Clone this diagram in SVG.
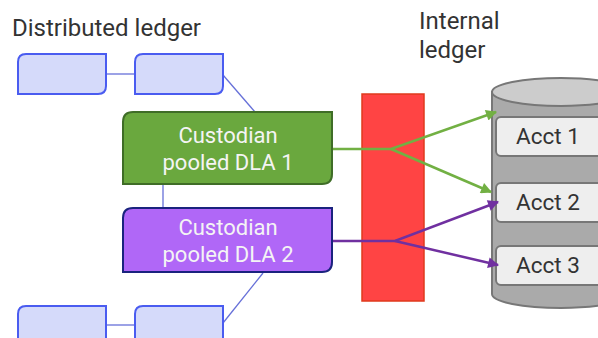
<svg xmlns="http://www.w3.org/2000/svg" width="598" height="338" viewBox="0 0 598 338">
<defs>
<style>
.title{font-family:Roboto,"Liberation Sans",sans-serif;font-size:24px;fill:#333333}
.lbl{font-family:Roboto,"Liberation Sans",sans-serif;font-size:22px;fill:#f4f4f4;text-anchor:middle}
.acct{font-family:Roboto,"Liberation Sans",sans-serif;font-size:22.5px;fill:#333333;text-anchor:middle}
.blk{fill:#d5dafa;stroke:#4a5cf0;stroke-width:2}
.thin{stroke:#6670d8;stroke-width:1.3;fill:none}
.acb{fill:#eeeeee;stroke:#777777;stroke-width:2}
.g{stroke:#72b043;stroke-width:2.5;fill:none}
.p{stroke:#7030a0;stroke-width:2.5;fill:none}
</style>
<marker id="ag" viewBox="0 0 10 10" refX="9" refY="5" markerWidth="13" markerHeight="11" orient="auto" markerUnits="userSpaceOnUse"><path d="M0,0 L10,5 L0,10 z" fill="#72b043"/></marker>
<marker id="ap" viewBox="0 0 10 10" refX="9" refY="5" markerWidth="13" markerHeight="11" orient="auto" markerUnits="userSpaceOnUse"><path d="M0,0 L10,5 L0,10 z" fill="#7030a0"/></marker>
</defs>
<rect width="598" height="338" fill="#ffffff"/>
<text class="title" x="12" y="36">Distributed ledger</text>
<text class="title" x="419" y="29">Internal</text>
<text class="title" x="419" y="58">ledger</text>

<g id="connectors">
<line class="thin" x1="106" y1="74" x2="135" y2="74"/>
<line class="thin" x1="223" y1="75" x2="255" y2="112"/>
<line class="thin" x1="163" y1="184" x2="163" y2="208"/>
<line class="thin" x1="263" y1="273" x2="223" y2="323"/>
<line class="thin" x1="106" y1="325" x2="135" y2="325"/>
</g>

<g id="dl1"><path class="blk" d="M26,54 H106 V86 Q106,94 98,94 H18 V62 Q18,54 26,54 Z"/></g>
<g id="dl2"><path class="blk" d="M143,54 H223 V86 Q223,94 215,94 H135 V62 Q135,54 143,54 Z"/></g>
<g id="dl3"><path class="blk" d="M26,306 H106 V345 H18 V314 Q18,306 26,306 Z"/></g>
<g id="dl4"><path class="blk" d="M143,306 H223 V345 H135 V314 Q135,306 143,306 Z"/></g>

<g id="internal">
<path d="M492,92 V294 A69,14 0 0 0 630,294 V92 Z" fill="#aaaaaa" stroke="#777777" stroke-width="2"/>
<ellipse cx="561" cy="92" rx="69" ry="14" fill="#cccccc" stroke="#777777" stroke-width="2"/>
</g>
<g id="acct1"><rect class="acb" x="496" y="117" width="120" height="39" rx="5"/><text class="acct" x="548" y="144">Acct 1</text></g>
<g id="acct2"><rect class="acb" x="496" y="183" width="120" height="39" rx="5"/><text class="acct" x="548" y="210">Acct 2</text></g>
<g id="acct3"><rect class="acb" x="496" y="246" width="120" height="39" rx="5"/><text class="acct" x="548" y="273">Acct 3</text></g>

<g id="barrier"><rect x="362" y="94" width="62" height="207" fill="#ff4444" stroke="#e03a1c" stroke-width="1.5"/></g>

<g id="arrows">
<polyline class="g" points="332,149 391,149 496,112" marker-end="url(#ag)"/>
<polyline class="g" points="391,149 491,192" marker-end="url(#ag)"/>
<polyline class="p" points="332,241 395,241 498,202" marker-end="url(#ap)"/>
<polyline class="p" points="395,241 498,265" marker-end="url(#ap)"/>
</g>

<g id="dla1"><path d="M133,112 H332 V174 Q332,184 322,184 H123 V122 Q123,112 133,112 Z" fill="#6aa83e" stroke="#3f6d27" stroke-width="2"/>
<text class="lbl" x="228" y="143">Custodian</text><text class="lbl" x="228" y="170">pooled DLA 1</text></g>
<g id="dla2"><path d="M133,208 H332 V262 Q332,272 322,272 H123 V218 Q123,208 133,208 Z" fill="#b067f7" stroke="#1a237e" stroke-width="2"/>
<text class="lbl" x="228" y="235">Custodian</text><text class="lbl" x="228" y="262">pooled DLA 2</text></g>
</svg>
